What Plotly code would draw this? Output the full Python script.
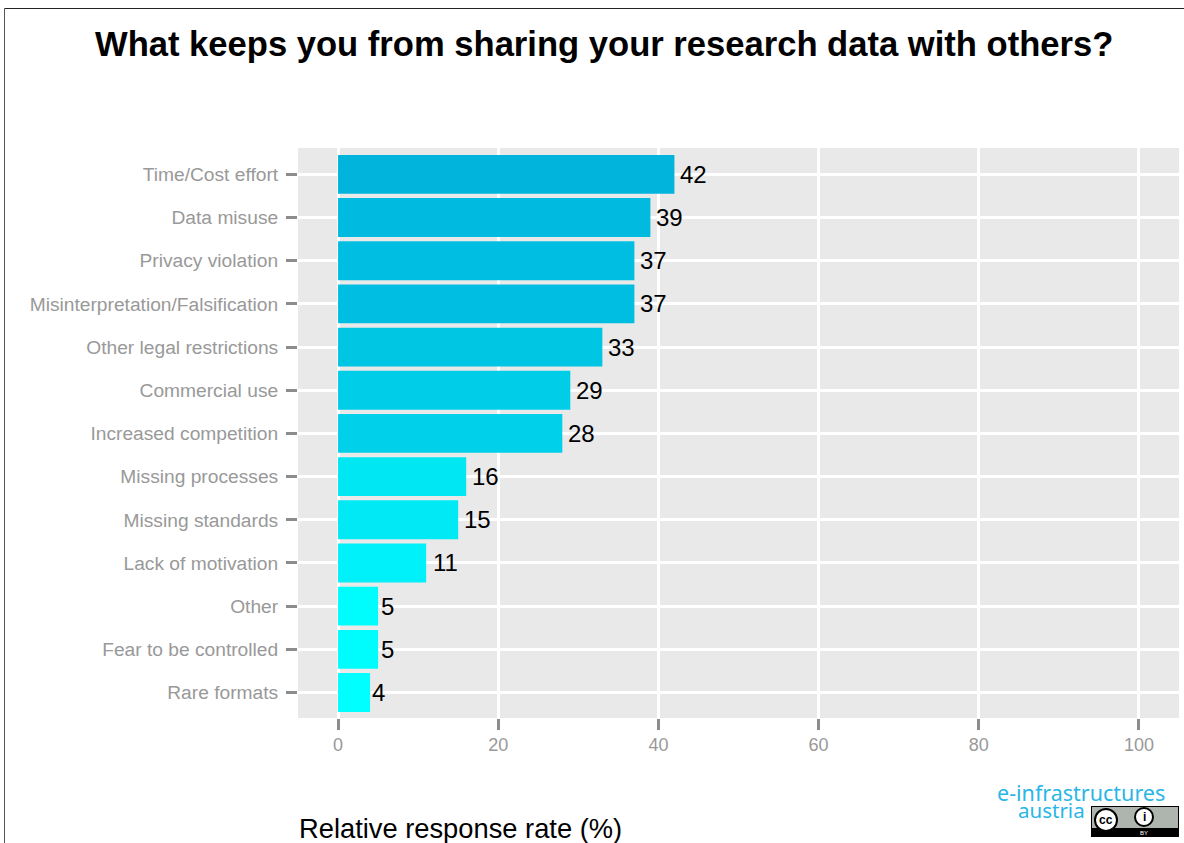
import plotly.graph_objects as go

categories = ["Time/Cost effort", "Data misuse", "Privacy violation",
              "Misinterpretation/Falsification", "Other legal restrictions",
              "Commercial use", "Increased competition", "Missing processes",
              "Missing standards", "Lack of motivation", "Other",
              "Fear to be controlled", "Rare formats"]
values = [42, 39, 37, 37, 33, 29, 28, 16, 15, 11, 5, 5, 4]
x_ticks = [0, 20, 40, 60, 80, 100]
title = "What keeps you from sharing your research data with others?"
x_title = "Relative response rate (%)"

W, H = 1184, 843
L, R, T, B = 298, 1179, 148, 718
FONT = "Liberation Sans"


def px(x):
    return (x - L) / (R - L)


def py(y):
    return (B - y) / (B - T)


fig = go.Figure(go.Bar(
    y=categories, x=values, orientation="h", width=0.9,
    marker=dict(color=values, colorscale=[[0, "#00FFFF"], [1, "#00B4DC"]],
                cmin=4, cmax=42, line_width=0),
    hoverinfo="x+y",
))

annotations = []
for c, v in zip(categories, values):
    annotations.append(dict(x=v, y=c, xref="x", yref="y", text=str(v), showarrow=False,
                            xanchor="center", yanchor="middle",
                            xshift=19 if v >= 10 else (9 if v > 4 else 8),
                            font=dict(family=FONT, size=24, color="#000000")))
annotations += [
    dict(x=px(603.5), y=py(44), xref="paper", yref="paper", text=f"<b>{title}</b>", showarrow=False,
         xanchor="center", yanchor="middle", font=dict(family=FONT, size=34.6, color="#000000")),
    dict(x=px(297), y=py(828), xref="paper", yref="paper", text=x_title, showarrow=False,
         xanchor="left", yanchor="middle", font=dict(family=FONT, size=27.3, color="#000000")),
    dict(x=px(1167), y=py(792), xref="paper", yref="paper", text="e-infrastructures", showarrow=False,
         xanchor="right", yanchor="middle", font=dict(family="Noto Sans", size=21.5, color="#29B6E6")),
    dict(x=px(1087), y=py(810), xref="paper", yref="paper", text="austria", showarrow=False,
         xanchor="right", yanchor="middle", font=dict(family="Noto Sans", size=20.5, color="#29B6E6")),
    dict(x=px(1106), y=py(820), xref="paper", yref="paper", text="<b>cc</b>", showarrow=False,
         xanchor="center", yanchor="middle", font=dict(family=FONT, size=12, color="#000000")),
    dict(x=px(1144), y=py(817), xref="paper", yref="paper", text="<b>i</b>", showarrow=False,
         xanchor="center", yanchor="middle", font=dict(family=FONT, size=12, color="#000000")),
    dict(x=px(1144), y=py(832.5), xref="paper", yref="paper", text="BY", showarrow=False,
         xanchor="center", yanchor="middle", font=dict(family=FONT, size=6, color="#FFFFFF")),
]


def rect(x0, y0, x1, y1, fill, line=None, kind="rect", width=0):
    return dict(type=kind, xref="paper", yref="paper", x0=px(x0), x1=px(x1), y0=py(y0), y1=py(y1),
                fillcolor=fill, line=dict(color=line or fill, width=width), layer="above")


shapes = [
    dict(type="line", xref="paper", yref="paper", x0=px(4.5), x1=px(W), y0=py(8.5), y1=py(8.5),
         line=dict(color="#222222", width=1)),
    dict(type="line", xref="paper", yref="paper", x0=px(4.5), x1=px(4.5), y0=py(8.5), y1=py(H),
         line=dict(color="#555555", width=1)),
    rect(1091, 806, 1179, 837, "#000000"),
    rect(1092, 807, 1178, 828, "#AEB5AE"),
    rect(1095, 809, 1117, 831, "#FFFFFF", "#000000", "circle", 2),
    rect(1135, 808, 1153, 826, "#FFFFFF", "#000000", "circle", 2),
]

fig.update_layout(
    width=W, height=H, autosize=False,
    margin=dict(l=L, r=W - R, t=T, b=H - B, pad=0),
    paper_bgcolor="#FFFFFF", plot_bgcolor="#E9E9E9",
    showlegend=False, bargap=0.1,
    annotations=annotations, shapes=shapes,
    xaxis=dict(range=[-5, 105], tickvals=x_ticks, ticks="outside", ticklen=11, tickwidth=3,
               tickcolor="#8C8C8C", showgrid=True, gridcolor="#FFFFFF", gridwidth=3,
               zeroline=False, showline=False, ticklabelstandoff=-1,
               tickfont=dict(family=FONT, size=18, color="#999999")),
    yaxis=dict(autorange=False, range=[12.59, -0.61], categoryorder="array", categoryarray=categories,
               ticks="outside", ticklen=11, tickwidth=3, tickcolor="#8C8C8C", ticklabelstandoff=4,
               showgrid=True, gridcolor="#FFFFFF", gridwidth=3, zeroline=False, showline=False,
               tickfont=dict(family=FONT, size=19.2, color="#999999")),
)

fig.write_html("out.html", config=dict(displayModeBar=False),
               post_script="document.body.style.margin='0';document.body.style.overflow='hidden';")
